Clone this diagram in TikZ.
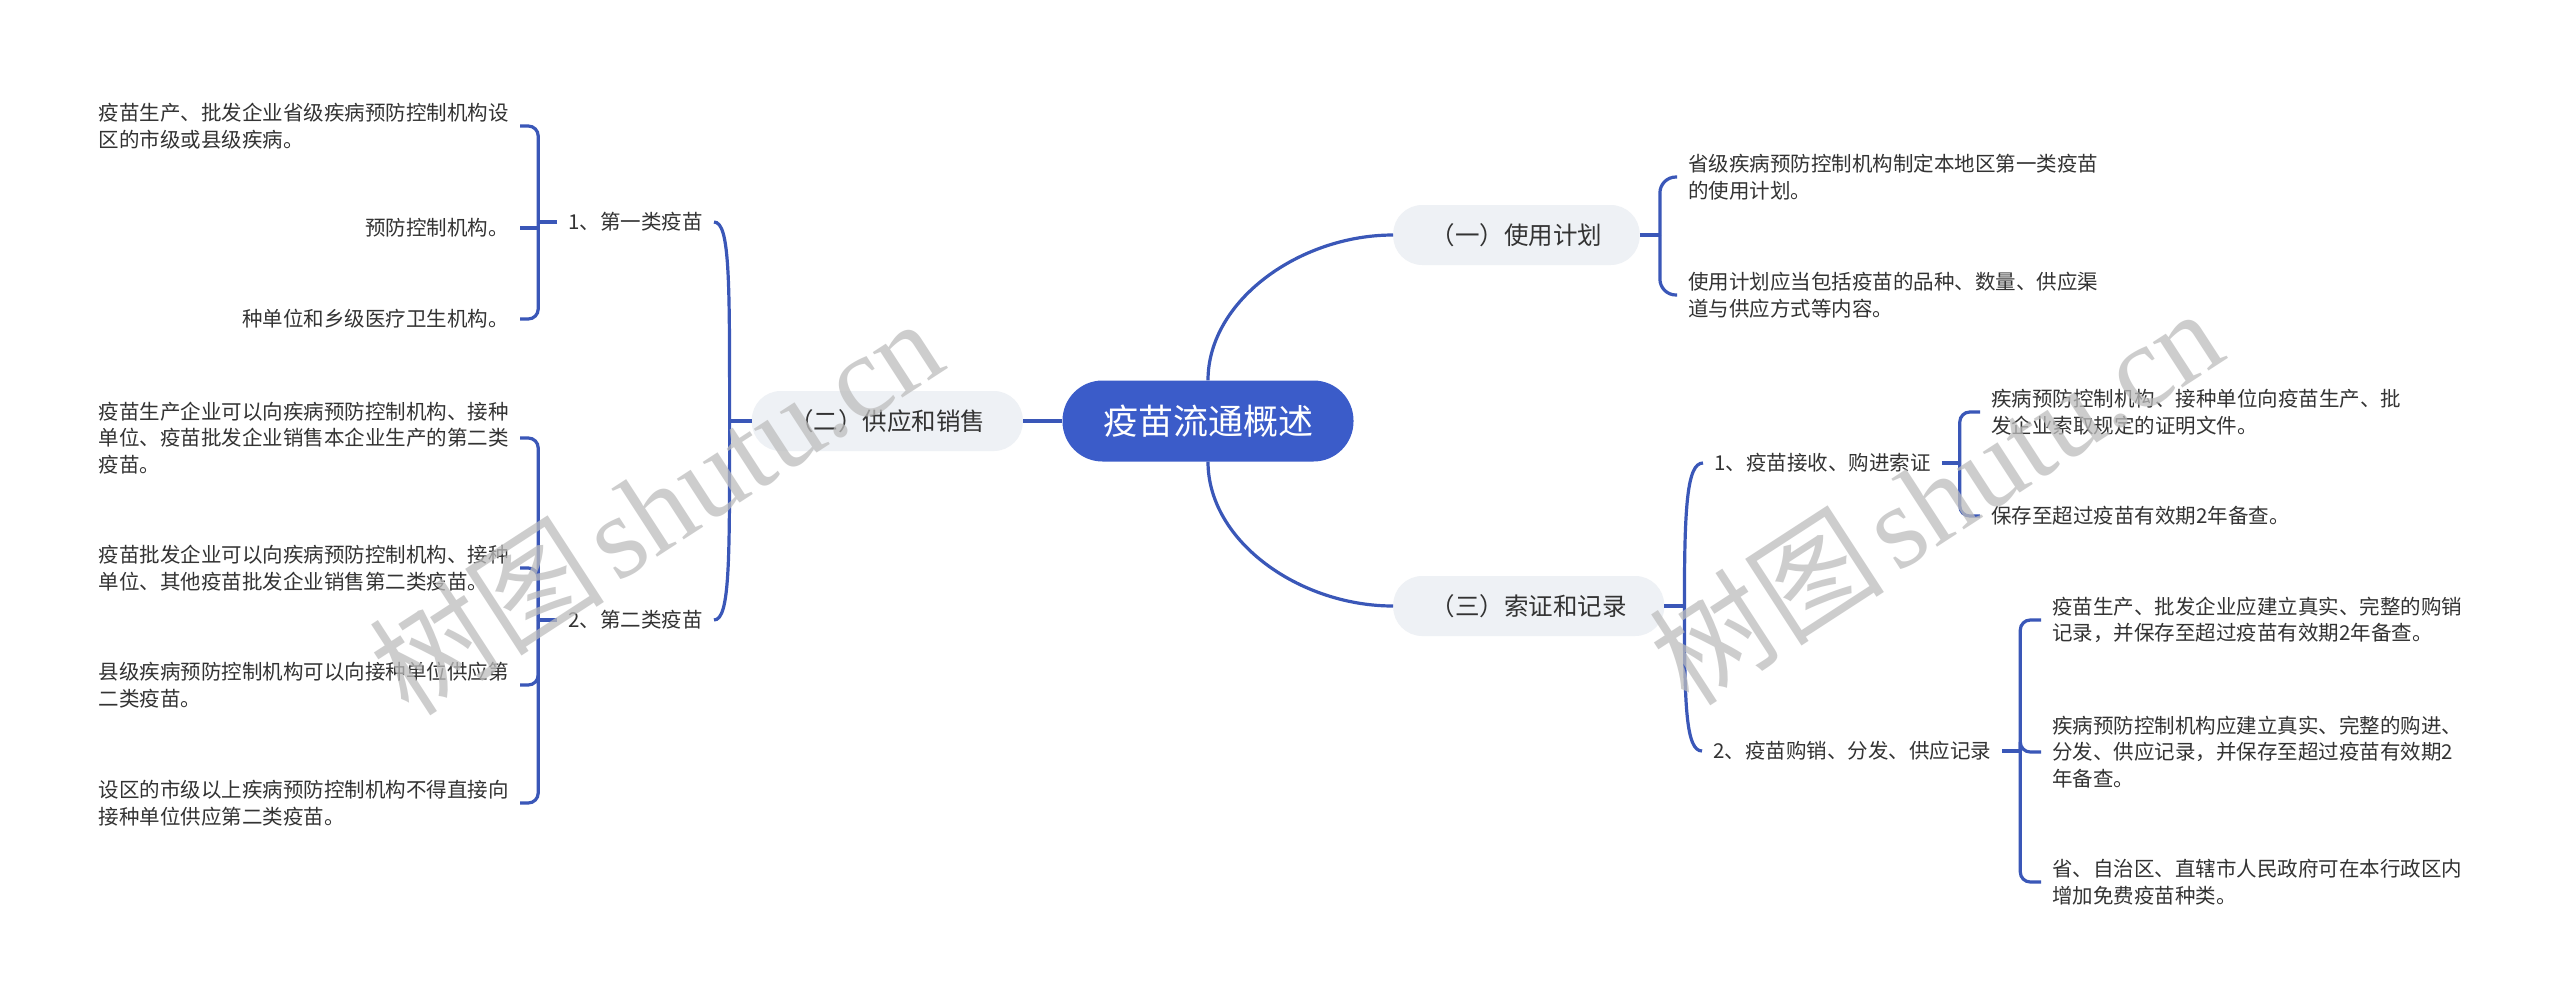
\documentclass[tikz,border=0pt]{standalone}
\usepackage{fontspec}
\setmainfont{Noto Sans CJK SC}
\newfontfamily\wmlatin{Liberation Serif}
\usetikzlibrary{calc}
\definecolor{linec}{HTML}{3A57B8}
\definecolor{rootc}{HTML}{3B5CC9}
\definecolor{pillc}{HTML}{EEF1F5}
\definecolor{txtc}{HTML}{333333}
\definecolor{wmc}{HTML}{BDBDBD}
\tikzset{
  rootnode/.style={fill=rootc, text=white, rounded corners=40pt, minimum height=81pt, inner xsep=40.5pt, inner ysep=0pt, font=\fontsize{35pt}{40pt}\selectfont},
  lvlone/.style={fill=pillc, text=txtc, rounded corners=29pt, minimum height=60pt, inner xsep=37.5pt, inner ysep=0pt, font=\fontsize{24.5pt}{28pt}\selectfont},
  lbl/.style={text=txtc, inner xsep=11pt, inner ysep=3pt, font=\fontsize{20.5pt}{26.5pt}\selectfont},
  leafL/.style={lbl, align=left, anchor=east},
  leafR/.style={lbl, align=left, anchor=west},
  conn/.style={draw=linec, line width=3.2pt},
  hook/.style={conn, rounded corners=10pt},
  wm/.style={text=wmc, opacity=0.75, rotate=33, inner sep=0pt}
}
\begin{document}
\begin{tikzpicture}[x=1pt,y=-1pt]
\useasboundingbox (0,0) rectangle (2560,1005);
\fill[white] (0,0) rectangle (2560,1005);

% main nodes
\node[rootnode] (root) at (1208,421) {疫苗流通概述};
\node[lvlone, anchor=west] (n1) at (1393,235) {（一）使用计划};
\node[lvlone, anchor=east] (n2) at (1023,421) {（二）供应和销售};
\node[lvlone, anchor=west] (n3) at (1393,606) {（三）索证和记录};

% level 2 labels
\node[lbl, anchor=east] (a1) at (714,222) {1、第一类疫苗};
\node[lbl, anchor=east] (a2) at (714,620) {2、第二类疫苗};
\node[lbl, anchor=west] (b1) at (1703,463) {1、疫苗接收、购进索证};
\node[lbl, anchor=west] (b2) at (1702,751) {2、疫苗购销、分发、供应记录};

% leaves of (一)
\node[leafR] (r1a) at (1677,177) {省级疾病预防控制机构制定本地区第一类疫苗\\的使用计划。};
\node[leafR] (r1b) at (1677,295) {使用计划应当包括疫苗的品种、数量、供应渠\\道与供应方式等内容。};

% leaves of 1、第一类疫苗
\node[leafL] (l1a) at (520,126) {疫苗生产、批发企业省级疾病预防控制机构设\\区的市级或县级疾病。};
\node[leafL] (l1b) at (520,228) {预防控制机构。};
\node[leafL] (l1c) at (520,319) {种单位和乡级医疗卫生机构。};

% leaves of 2、第二类疫苗
\node[leafL] (l2a) at (520,438) {疫苗生产企业可以向疾病预防控制机构、接种\\单位、疫苗批发企业销售本企业生产的第二类\\疫苗。};
\node[leafL] (l2b) at (520,568) {疫苗批发企业可以向疾病预防控制机构、接种\\单位、其他疫苗批发企业销售第二类疫苗。};
\node[leafL] (l2c) at (520,685) {县级疾病预防控制机构可以向接种单位供应第\\二类疫苗。};
\node[leafL] (l2d) at (520,803) {设区的市级以上疾病预防控制机构不得直接向\\接种单位供应第二类疫苗。};

% leaves of 1、疫苗接收、购进索证
\node[leafR] (r3a) at (1980,412) {疾病预防控制机构、接种单位向疫苗生产、批\\发企业索取规定的证明文件。};
\node[leafR] (r3b) at (1980,516) {保存至超过疫苗有效期2年备查。};

% leaves of 2、疫苗购销、分发、供应记录
\node[leafR] (r4a) at (2041,620) {疫苗生产、批发企业应建立真实、完整的购销\\记录，并保存至超过疫苗有效期2年备查。};
\node[leafR] (r4b) at (2041,752) {疾病预防控制机构应建立真实、完整的购进、\\分发、供应记录，并保存至超过疫苗有效期2\\年备查。};
\node[leafR] (r4c) at (2041,882) {省、自治区、直辖市人民政府可在本行政区内\\增加免费疫苗种类。};

% root connectors
\draw[conn] (root.north) .. controls ($(root.north)+(0,-80)$) and ($(n1.west)+(-93,0)$) .. (n1.west);
\draw[conn] (root.south) .. controls ($(root.south)+(0,80)$) and ($(n3.west)+(-93,0)$) .. (n3.west);
\draw[conn] (root.west) -- (n2.east);

% (一) bracket
\coordinate (j1) at ($(n1.east)+(20,0)$);
\draw[conn] (n1.east) -- (j1);
\draw[conn, rounded corners=16pt] (j1) |- (r1a.west);
\draw[conn, rounded corners=16pt] (j1) |- (r1b.west);

% (二) connectors
\coordinate (j2) at ($(n2.west)+(-22,0)$);
\draw[conn] (n2.west) -- (j2);
\draw[conn] (j2) .. controls ($(j2)+(0,-140)$) and ($(a1.east)+(16,0)$) .. (a1.east);
\draw[conn] (j2) .. controls ($(j2)+(0,140)$) and ($(a2.east)+(16,0)$) .. (a2.east);

% (三) connectors
\coordinate (j3) at ($(n3.east)+(20,0)$);
\draw[conn] (n3.east) -- (j3);
\draw[conn] (j3) .. controls ($(j3)+(0,-100)$) and ($(b1.west)+(-16,0)$) .. (b1.west);
\draw[conn] (j3) .. controls ($(j3)+(0,100)$) and ($(b2.west)+(-16,0)$) .. (b2.west);

% 1、第一类疫苗 bracket
\coordinate (k1) at ($(a1.west)+(-19,0)$);
\draw[conn] (a1.west) -- (k1);
\draw[hook] (k1) |- (l1a.east);
\draw[conn] (k1) |- (l1b.east);
\draw[hook] (k1) |- (l1c.east);

% 2、第二类疫苗 bracket
\coordinate (k2) at ($(a2.west)+(-19,0)$);
\draw[conn] (a2.west) -- (k2);
\draw[hook] (k2) |- (l2a.east);
\draw[hook] (k2) |- (l2b.east);
\draw[hook] (k2) |- (l2c.east);
\draw[hook] (k2) |- (l2d.east);

% 1、疫苗接收 bracket
\coordinate (k3) at ($(b1.east)+(18,0)$);
\draw[conn] (b1.east) -- (k3);
\draw[hook] (k3) |- (r3a.west);
\draw[hook] (k3) |- (r3b.west);

% 2、疫苗购销 bracket
\coordinate (k4) at ($(b2.east)+(18,0)$);
\draw[conn] (b2.east) -- (k4);
\draw[hook] (k4) |- (r4a.west);
\draw[hook] (k4) |- (r4b.west);
\draw[hook] (k4) |- (r4c.west);

% watermarks
\node[wm] (wm1) at (655,505) {\fontsize{118pt}{120pt}\selectfont 树图\hspace{12pt}{\wmlatin shutu.cn}};
\node[wm] (wm2) at (1935,495) {\fontsize{118pt}{120pt}\selectfont 树图\hspace{12pt}{\wmlatin shutu.cn}};
\end{tikzpicture}
\end{document}
